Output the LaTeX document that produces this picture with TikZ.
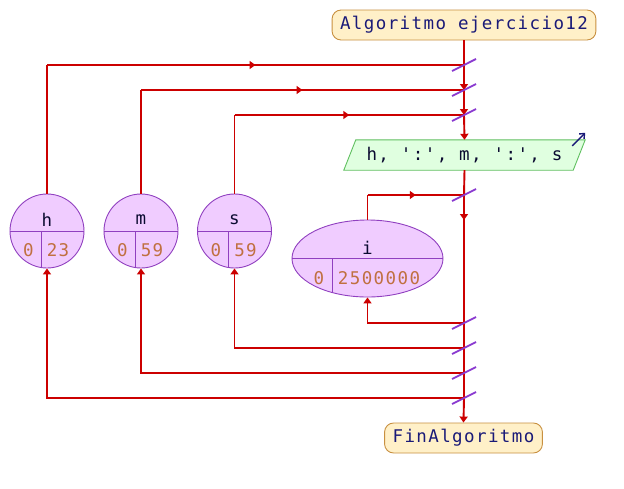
\documentclass[tikz,border=0pt]{standalone}
\usepackage{fontspec}
\setmonofont[LetterSpace=8]{DejaVu Sans Mono}
\usetikzlibrary{arrows.meta,calc,decorations.markings,backgrounds,shapes.geometric}
\definecolor{flowred}{HTML}{CC0000}
\definecolor{slashpurple}{HTML}{8A3AD0}
\definecolor{varfill}{HTML}{F0CCFF}
\definecolor{varline}{HTML}{9040C0}
\definecolor{numcol}{HTML}{C07040}
\definecolor{navy}{HTML}{1A1A78}
\definecolor{startfill}{HTML}{FFF0C8}
\definecolor{startline}{HTML}{C89040}
\definecolor{outfill}{HTML}{E0FFE0}
\definecolor{outline}{HTML}{60C060}
\begin{document}
\begin{tikzpicture}[x=1pt,y=1pt,
  txt/.style={font=\ttfamily\fontsize{17.5}{20}\selectfont},
  flow/.style={draw=flowred,line width=1.9pt},
  tip/.style={-{Triangle[length=6pt,width=8pt]}},
  midarrow/.style={decoration={markings,mark=at position 0.5 with {\arrow{Triangle[length=6pt,width=8pt]}}},postaction={decorate}},
  arrowat/.style={decoration={markings,mark=at position #1 with {\arrow{Triangle[length=6pt,width=8pt]}}},postaction={decorate}},
  slashmark/.style={draw=slashpurple,line width=1.8pt},
  termbox/.style={txt,text=navy,draw=startline,fill=startfill,line width=0.9pt,rounded corners=9pt,minimum height=30pt,inner xsep=8pt},
  varcirc/.style={circle,draw=varline,fill=varfill,line width=0.9pt,minimum size=74pt,inner sep=0pt},
  varell/.style={ellipse,draw=varline,fill=varfill,line width=0.9pt,minimum width=151pt,minimum height=77pt,inner sep=0pt},
  divider/.style={draw=varline,line width=0.9pt},
  vname/.style={txt,text=navy!40!black},
  vnum/.style={txt,text=numcol}
]
\useasboundingbox (0,0) rectangle (624,-488);

% terminals
\node[termbox] (start) at (464,-25) {Algoritmo ejercicio12};
\node[termbox] (fin) at (463.5,-438) {FinAlgoritmo};

% junctions
\coordinate (j1) at (464,-65);
\coordinate (j2) at (464,-90);
\coordinate (j3) at (464,-115);
\coordinate (j4) at (464,-195);
\coordinate (j5) at (464,-323);
\coordinate (j6) at (464,-348);
\coordinate (j7) at (464,-373);
\coordinate (j8) at (464,-398);

% output box
\node[txt,text=navy!40!black,minimum width=229pt,minimum height=30pt,inner sep=0pt] (out) at (464.5,-155) {h, ':', m, ':', s};
\begin{scope}[on background layer]
\fill[white] (0,0) rectangle (624,-488);
\draw[draw=outline,fill=outfill,line width=0.9pt]
  ($(out.south west)+(-6,0)$) -- ($(out.north west)+(6,0)$) -- ($(out.north east)+(6,0)$) -- ($(out.south east)+(-6,0)$) -- cycle;
\end{scope}
\coordinate (oa) at ($(out.north east)+(-7,-6)$);
\coordinate (ob) at ($(out.north east)+(6,7)$);
\draw[navy,line width=1.4pt,-{Straight Barb[length=4pt,width=7pt]}] (oa) -- (ob);

% variables
\node[varcirc] (hvar) at (47,-231) {};
\node[varcirc] (mvar) at (141,-231) {};
\node[varcirc] (svar) at (234.5,-231) {};
\node[varell] (ivar) at (367.5,-258.5) {};

\foreach \v/\n/\hi in {hvar/h/23,mvar/m/59,svar/s/59}{
  \draw[divider] (\v.west) -- (\v.east);
  \draw[divider] ($(\v.center)+(-6,0)$) -- ($(\v.center)+(-6,-36.5)$);
  \node[vname] (\v-name) at ($(\v.center)+(0,11)$) {\n};
  \node[vnum] (\v-lo) at ($(\v.center)+(-18.5,-19)$) {0};
  \node[vnum] (\v-hi) at ($(\v.center)+(11,-19)$) {\hi};
}
\draw[divider] (ivar.west) -- (ivar.east);
\draw[divider] ($(ivar.center)+(-35.5,0)$) -- ($(ivar.center)+(-35.5,-34)$);
\node[vname] (iname) at ($(ivar.center)+(0,11)$) {i};
\node[vnum] (ilo) at ($(ivar.center)+(-48.5,-19.5)$) {0};
\node[vnum] (ihi) at ($(ivar.center)+(11.5,-19.5)$) {2500000};

% main line
\draw[flow] (start.south) -- (j1);
\draw[flow,tip] (j1) -- (j2);
\draw[flow,tip] (j2) -- (j3);
\draw[flow,tip] (j3) -- (out.north);
\draw[flow] (out.south) -- (j4);
\draw[flow,arrowat=25pt] (j4) -- (j5);
\draw[flow] (j5) -- (j6) -- (j7) -- (j8);
\draw[flow,tip] (j8) -- (fin.north);

% top loop lines
\coordinate (hc) at (hvar.north |- j1);
\coordinate (mc) at (mvar.north |- j2);
\coordinate (sc) at (svar.north |- j3);
\coordinate (ic) at (ivar.north |- j4);
\draw[flow] (hvar.north) -- (hc);
\draw[flow,midarrow] (hc) -- (j1);
\draw[flow] (mvar.north) -- (mc);
\draw[flow,midarrow] (mc) -- (j2);
\draw[flow] (svar.north) -- (sc);
\draw[flow,midarrow] (sc) -- (j3);
\draw[flow] (ivar.north) -- (ic);
\draw[flow,midarrow] (ic) -- (j4);

% bottom return lines
\draw[flow,tip] (j5) -| (ivar.south);
\draw[flow,tip] (j6) -| (svar.south);
\draw[flow,tip] (j7) -| (mvar.south);
\draw[flow,tip] (j8) -| (hvar.south);

% slashes
\foreach \j in {j1,j2,j3,j4,j5,j6,j7,j8}{
  \draw[slashmark] ($(\j)+(-12,-6)$) -- ($(\j)+(12,6)$);
}
\end{tikzpicture}
\end{document}
